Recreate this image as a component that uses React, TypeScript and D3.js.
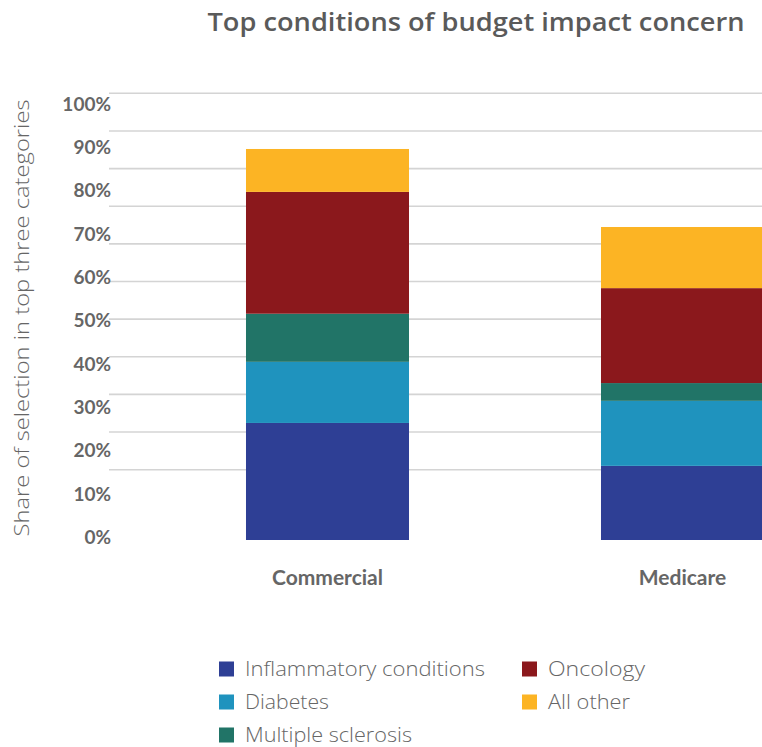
import React from "react";
import * as d3 from "d3";

const categories = ["Commercial", "Medicare"];
const seriesNames = ["Inflammatory conditions", "Diabetes", "Multiple sclerosis", "Oncology", "All other"];
const inflammatory = [27.0, 17.1];
const diabetes = [14.1, 15.0];
const multipleSclerosis = [11.1, 4.1];
const oncology = [28.1, 21.9];
const allOther = [9.9, 14.1];
const tickValues = [0, 10, 20, 30, 40, 50, 60, 70, 80, 90, 100];
const colors = ["#2E3F95", "#1F93BE", "#217467", "#8B181C", "#FCB424"];

const W = 762;
const H = 747;
const TEXT = "#666666";

export default function App() {
  const rows = categories.map((c, i) => ({
    category: c,
    "Inflammatory conditions": inflammatory[i],
    Diabetes: diabetes[i],
    "Multiple sclerosis": multipleSclerosis[i],
    Oncology: oncology[i],
    "All other": allOther[i],
  }));
  const stacked = d3.stack<any>().keys(seriesNames)(rows);

  const x = d3.scaleBand().domain(categories).range([150, 860]).paddingInner(0.5408).paddingOuter(0.2704);
  const y = d3.scaleLinear().domain([0, 100]).range([540, 106.5]);
  const grid = d3.scaleLinear().domain([0, 100]).range([469.7, 93.3]);

  const legendItems = [
    { name: "Inflammatory conditions", col: 0, row: 0, w: 240 },
    { name: "Oncology", col: 1, row: 0, w: 97 },
    { name: "Diabetes", col: 0, row: 1, w: 84 },
    { name: "All other", col: 1, row: 1, w: 82 },
    { name: "Multiple sclerosis", col: 0, row: 2, w: 167 },
  ];
  const legendX = [219, 522];
  const legendY = [669, 702, 735];

  return (
    <div style={{ position: "absolute", left: 0, top: 0 }}>
      <svg width={W} height={H} style={{ display: "block", background: "#fff" }}>
        <text
          x={476}
          y={31}
          textAnchor="middle"
          fill="#5a5a5a"
          fontFamily="'Open Sans', sans-serif"
          fontWeight={600}
          fontSize={25}
          textLength={537}
          lengthAdjust="spacingAndGlyphs"
        >
          Top conditions of budget impact concern
        </text>
        <text
          transform={`translate(29,318) rotate(-90)`}
          textAnchor="middle"
          fill={TEXT}
          fontFamily="'Open Sans', sans-serif"
          fontWeight={300}
          fontSize={20}
          textLength={437}
          lengthAdjust="spacingAndGlyphs"
        >
          Share of selection in top three categories
        </text>
        {tickValues.map((t) => (
          <line key={"g" + t} x1={109} x2={W} y1={grid(t)} y2={grid(t)} stroke="#d4d4d4" strokeWidth={1.6} />
        ))}
        {tickValues.map((t) => (
          <text
            key={"t" + t}
            x={111}
            y={y(t) - 2.5}
            dy="0.35em"
            textAnchor="end"
            fill={TEXT}
            fontFamily="Lato, sans-serif"
            fontWeight={700}
            fontSize={19}
          >
            {t + "%"}
          </text>
        ))}
        {stacked.map((s, si) =>
          s.map((d: any, i: number) => (
            <rect
              key={s.key + i}
              x={x(categories[i])}
              width={x.bandwidth()}
              y={y(d[1])}
              height={y(d[0]) - y(d[1])}
              fill={colors[si]}
            />
          ))
        )}
        {categories.map((c) => (
          <text
            key={c}
            x={(x(c) as number) + x.bandwidth() / 2}
            y={585}
            textAnchor="middle"
            fill={TEXT}
            fontFamily="Lato, sans-serif"
            fontWeight={700}
            fontSize={21}
          >
            {c}
          </text>
        ))}
        {legendItems.map((it) => (
          <g key={it.name} transform={`translate(${legendX[it.col]},${legendY[it.row]})`}>
            <rect x={0} y={-7.5} width={15} height={15} fill={colors[seriesNames.indexOf(it.name)]} />
            <text
              x={26}
              y={0}
              dy="0.35em"
              fill={TEXT}
              fontFamily="'Open Sans', sans-serif"
              fontWeight={300}
              fontSize={20}
              textLength={it.w}
              lengthAdjust="spacingAndGlyphs"
            >
              {it.name}
            </text>
          </g>
        ))}
      </svg>
    </div>
  );
}
